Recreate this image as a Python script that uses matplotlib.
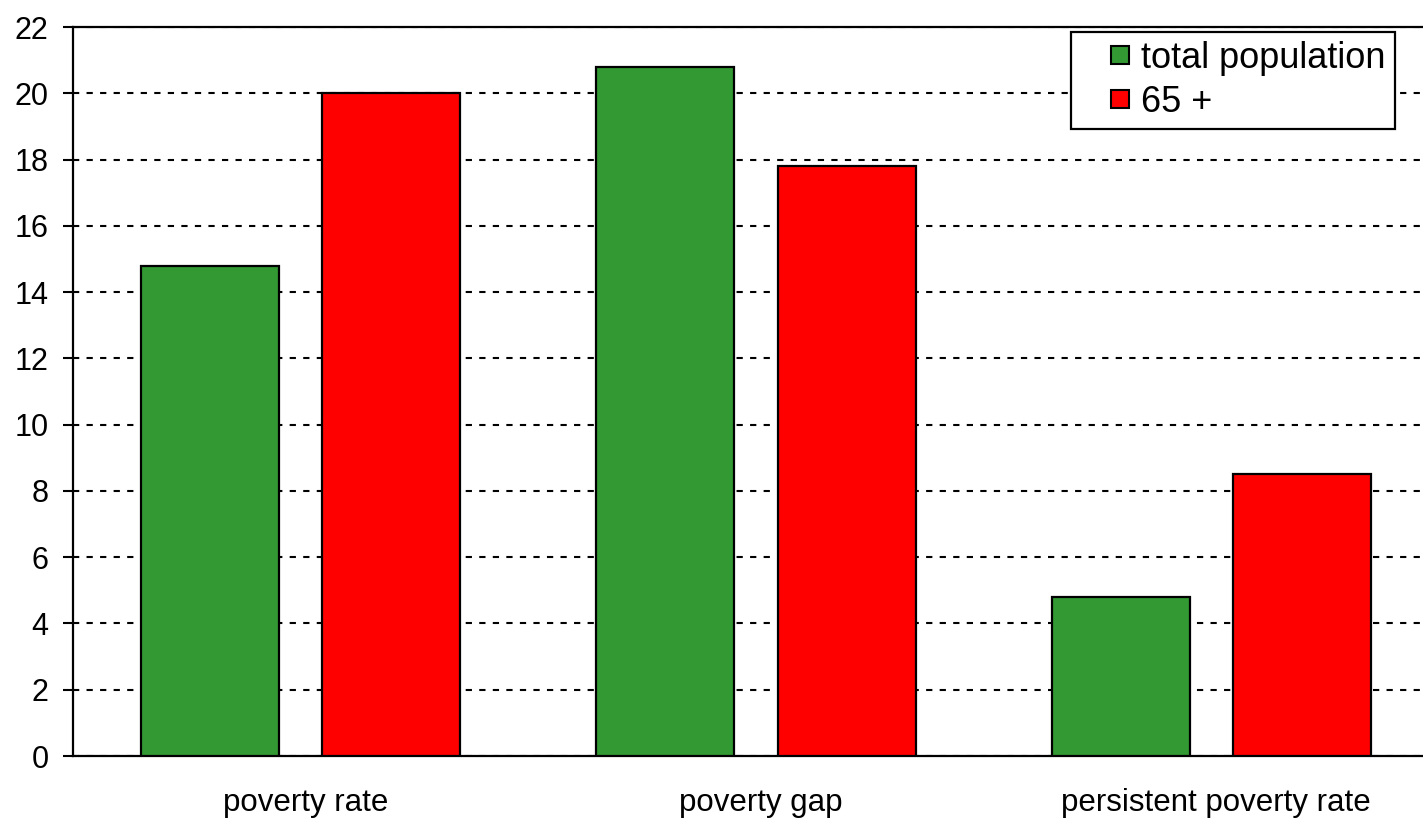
import numpy as np
import matplotlib.pyplot as plt
import matplotlib.transforms as mtransforms
from matplotlib.lines import Line2D

plt.rcParams['font.family'] = ['Liberation Sans', 'DejaVu Sans']

categories = ['poverty rate', 'poverty gap', 'persistent poverty rate']
total_population = [14.8, 20.8, 4.8]
age_65_plus = [20.0, 17.8, 8.5]
series_names = ['total population', '65 +']
colors = ['#339933', '#ff0000']
yticks = list(range(0, 23, 2))

fig = plt.figure(figsize=(14.23, 8.19), dpi=100)
# plot area runs a bit past the right edge of the picture
ax = fig.add_axes([73/1423, 63/819, 1366/1423, 729/819])

x = np.arange(len(categories))
w = 0.303
off = 0.199
ax.bar(x - off, total_population, w, color=colors[0], edgecolor='black', linewidth=1.6, zorder=3)
ax.bar(x + off, age_65_plus, w, color=colors[1], edgecolor='black', linewidth=1.6, zorder=3)

ax.set_xlim(-0.5, 2.5)
ax.set_ylim(0, 22)
ax.set_yticks(yticks)
ax.set_xticks(x)
ax.set_xticklabels(categories, fontsize=22.5)
ax.tick_params(axis='x', length=0, pad=23)
ax.tick_params(axis='y', labelsize=22, length=7.5, width=1.5, pad=10)
# category labels sit slightly right of the group centres
shift = mtransforms.ScaledTranslation(5/100, 0, fig.dpi_scale_trans)
for lab in ax.get_xticklabels():
    lab.set_transform(lab.get_transform() + shift)

ax.yaxis.grid(True, color='black', linestyle=(0, (3, 3.5)), linewidth=1.5, zorder=0)
ax.set_axisbelow(True)
for s in ['left', 'bottom', 'top']:
    ax.spines[s].set_linewidth(1.6)
ax.spines['right'].set_visible(False)

handles = [Line2D([], [], linestyle='none', marker='s', markersize=13,
                  markerfacecolor=c, markeredgecolor='black', markeredgewidth=1.5)
           for c in colors]
leg = ax.legend(handles, series_names, loc='upper right',
                bbox_to_anchor=(1322/1366, (756-32)/729), fontsize=26,
                frameon=True, fancybox=False, edgecolor='black', framealpha=1,
                handlelength=2.2, handletextpad=-0.5,
                borderpad=0.25, labelspacing=0.25, borderaxespad=0)
leg.get_frame().set_linewidth(1.6)

fig.savefig('out.png', dpi=100)
